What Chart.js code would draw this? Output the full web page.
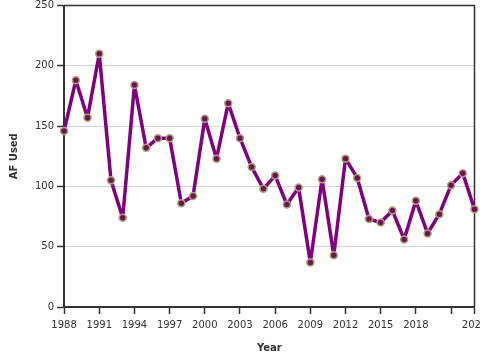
<!DOCTYPE html>
<html>
<head>
<meta charset="utf-8">
<script src="https://cdn.jsdelivr.net/npm/chart.js@4.4.1/dist/chart.umd.min.js"></script>
<style>
  html, body { margin: 0; padding: 0; background: #fff; overflow: hidden; }
  #wrap { width: 480px; height: 360px; }
</style>
</head>
<body>
<div id="wrap"><canvas id="af-chart" width="480" height="360"></canvas></div>
<script>
// AF used per year
var years = [1988, 1989, 1990, 1991, 1992, 1993, 1994, 1995, 1996, 1997, 1998, 1999,
  2000, 2001, 2002, 2003, 2004, 2005, 2006, 2007, 2008, 2009, 2010, 2011,
  2012, 2013, 2014, 2015, 2016, 2017, 2018, 2019, 2020, 2021, 2022, 2023];
var afUsed = [146, 188, 157, 210, 105, 74, 184, 132, 140, 140, 86, 92,
  156, 123, 169, 140, 116, 98, 109, 85, 99, 37, 106, 43,
  123, 107, 73, 70, 80, 56, 88, 61, 77, 101, 111, 81];
var xTicks = [1988, 1991, 1994, 1997, 2000, 2003, 2006, 2009, 2012, 2015, 2018, 2021, 2023];
var xTickLabels = ['1988', '1991', '1994', '1997', '2000', '2003', '2006', '2009', '2012', '2015', '2018', '', '2023'];
var yTicks = [0, 50, 100, 150, 200, 250];

var tickFont = { family: 'DejaVu Sans', size: 10 };
var titleFont = { family: 'DejaVu Sans', size: 10, weight: 'bold' };

// box around the plot area (top and right edges)
var frame = {
  id: 'frame',
  beforeDatasetsDraw: function (chart) {
    var a = chart.chartArea, ctx = chart.ctx;
    ctx.save();
    ctx.strokeStyle = '#333';
    ctx.lineWidth = 1.5;
    ctx.beginPath();
    ctx.moveTo(a.left, a.top);
    ctx.lineTo(a.right, a.top);
    ctx.lineTo(a.right, a.bottom);
    ctx.stroke();
    ctx.restore();
  }
};

var points = years.map(function (y, i) { return { x: y, y: afUsed[i] }; });

new Chart(document.getElementById('af-chart').getContext('2d'), {
  type: 'line',
  data: {
    datasets: [{
      label: 'AF Used',
      data: points,
      borderColor: '#800080',
      borderWidth: 3.5,
      borderJoinStyle: 'round',
      borderCapStyle: 'round',
      pointRadius: 3.5,
      pointBackgroundColor: '#6b1555',
      pointBorderColor: '#b0a07a',
      pointBorderWidth: 1.5,
      tension: 0,
      clip: false
    }]
  },
  options: {
    responsive: false,
    animation: false,
    layout: { padding: { top: 4, right: 5, left: 8, bottom: 6 } },
    plugins: { legend: { display: false }, tooltip: { enabled: false } },
    scales: {
      x: {
        type: 'linear',
        min: 1988,
        max: 2023,
        afterBuildTicks: function (scale) {
          scale.ticks = xTicks.map(function (v) { return { value: v }; });
        },
        afterFit: function (scale) { scale.paddingRight = 0; scale.paddingLeft = 0; },
        ticks: {
          font: tickFont,
          color: '#333',
          maxRotation: 0,
          autoSkip: false,
          padding: 5,
          callback: function (v) { return xTickLabels[xTicks.indexOf(v)]; }
        },
        grid: { drawOnChartArea: false, drawTicks: true, tickLength: 7, tickColor: '#333', tickWidth: 1.5 },
        border: { display: true, color: '#333', width: 2 },
        title: { display: true, text: 'Year', font: titleFont, color: '#333', padding: { top: 6, bottom: 0 } }
      },
      y: {
        min: 0,
        max: 250,
        afterBuildTicks: function (scale) {
          scale.ticks = yTicks.map(function (v) { return { value: v }; });
        },
        afterFit: function (scale) { scale.paddingTop = 0; scale.paddingBottom = 0; },
        ticks: { font: tickFont, color: '#333', padding: 3 },
        grid: { color: '#d6d6d6', lineWidth: 1, drawTicks: true, tickLength: 7, tickColor: '#333', tickWidth: 1.5 },
        border: { display: true, color: '#333', width: 2 },
        title: { display: true, text: 'AF Used', font: titleFont, color: '#333', padding: { top: 0, bottom: 12 } }
      }
    }
  },
  plugins: [frame]
});
</script>
</body>
</html>
